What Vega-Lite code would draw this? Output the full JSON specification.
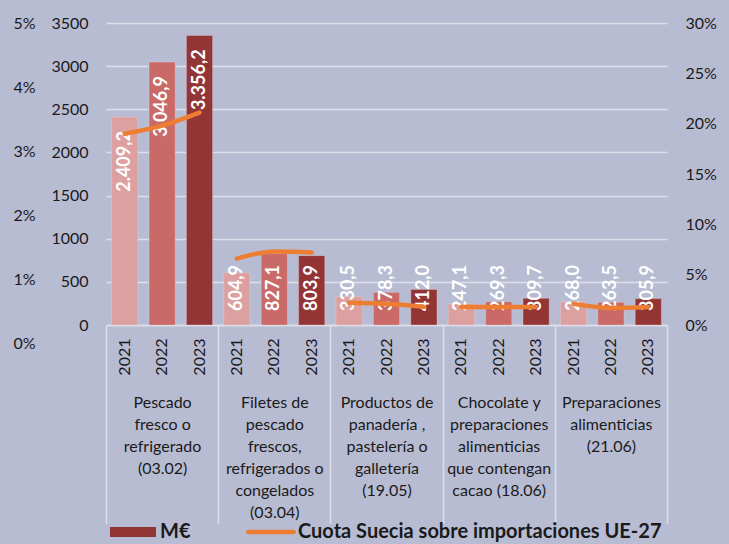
{
  "$schema": "https://vega.github.io/schema/vega-lite/v6.json",
  "width": 561,
  "height": 302,
  "autosize": {"type": "none"},
  "padding": {"left": 106, "top": 23, "right": 62, "bottom": 219},
  "background": "#b8bcd3",
  "config": {
    "view": {"stroke": null},
    "font": "Lato",
    "axis": {"labelFont": "Lato", "labelFontSize": 16, "labelColor": "#1a1a1a", "title": null}
  },
  "data": {
    "values": [
      {"cat": "Pescado|fresco o|refrigerado|(03.02)", "key": "1-2021", "year": "2021", "value": 2409.2, "label": "2.409,2", "share": 19.0},
      {"cat": "Pescado|fresco o|refrigerado|(03.02)", "key": "1-2022", "year": "2022", "value": 3046.9, "label": "3.046,9", "share": 19.8},
      {"cat": "Pescado|fresco o|refrigerado|(03.02)", "key": "1-2023", "year": "2023", "value": 3356.2, "label": "3.356,2", "share": 21.1},
      {"cat": "Filetes de|pescado|frescos,|refrigerados o|congelados|(03.04)", "key": "2-2021", "year": "2021", "value": 604.9, "label": "604,9", "share": 6.6},
      {"cat": "Filetes de|pescado|frescos,|refrigerados o|congelados|(03.04)", "key": "2-2022", "year": "2022", "value": 827.1, "label": "827,1", "share": 7.3},
      {"cat": "Filetes de|pescado|frescos,|refrigerados o|congelados|(03.04)", "key": "2-2023", "year": "2023", "value": 803.9, "label": "803,9", "share": 7.2},
      {"cat": "Productos de|panadería ,|pastelería o|galletería|(19.05)", "key": "3-2021", "year": "2021", "value": 330.5, "label": "330,5", "share": 2.2},
      {"cat": "Productos de|panadería ,|pastelería o|galletería|(19.05)", "key": "3-2022", "year": "2022", "value": 378.3, "label": "378,3", "share": 2.1},
      {"cat": "Productos de|panadería ,|pastelería o|galletería|(19.05)", "key": "3-2023", "year": "2023", "value": 412.0, "label": "412,0", "share": 1.8},
      {"cat": "Chocolate y|preparaciones|alimenticias|que contengan|cacao  (18.06)", "key": "4-2021", "year": "2021", "value": 247.1, "label": "247,1", "share": 1.8},
      {"cat": "Chocolate y|preparaciones|alimenticias|que contengan|cacao  (18.06)", "key": "4-2022", "year": "2022", "value": 269.3, "label": "269,3", "share": 1.8},
      {"cat": "Chocolate y|preparaciones|alimenticias|que contengan|cacao  (18.06)", "key": "4-2023", "year": "2023", "value": 309.7, "label": "309,7", "share": 1.8},
      {"cat": "Preparaciones|alimenticias|(21.06)", "key": "5-2021", "year": "2021", "value": 268.0, "label": "268,0", "share": 2.1},
      {"cat": "Preparaciones|alimenticias|(21.06)", "key": "5-2022", "year": "2022", "value": 263.5, "label": "263,5", "share": 1.7},
      {"cat": "Preparaciones|alimenticias|(21.06)", "key": "5-2023", "year": "2023", "value": 305.9, "label": "305,9", "share": 1.8}
    ]
  },
  "layer": [
    {
      "layer": [
        {
          "encoding": {
            "x": {
              "field": "key", "type": "nominal", "sort": null,
              "scale": {"paddingInner": 0.3, "paddingOuter": 0.15},
              "axis": {"orient": "bottom", "labelExpr": "slice(datum.label, 2)", "labelAngle": -90, "labelAlign": "right", "labelBaseline": "middle", "labelPadding": 13, "ticks": false, "domain": true, "domainColor": "#dde0ea", "domainWidth": 1.5}
            },
            "y": {
              "field": "value", "type": "quantitative",
              "scale": {"domain": [0, 3500], "nice": false},
              "axis": {"orient": "left", "format": "d", "values": [0, 500, 1000, 1500, 2000, 2500, 3000, 3500], "grid": true, "gridColor": "#dde0ea", "gridWidth": 1.5, "domain": false, "ticks": false, "labelPadding": 18}
            }
          },
          "layer": [
            {
              "mark": {"type": "bar", "stroke": "#e6d6dc", "strokeWidth": 0.6, "strokeOpacity": 0.6},
              "encoding": {
                "color": {"field": "year", "type": "nominal", "scale": {"domain": ["2021", "2022", "2023"], "range": ["#dda0a0", "#c96a69", "#933535"]}, "legend": null}
              }
            },
            {
              "transform": [{"filter": "datum.value > 1000"}],
              "mark": {"type": "text", "angle": 270, "align": "right", "baseline": "middle", "dx": -14, "color": "white", "font": "Lato", "fontWeight": "bold", "fontSize": 18},
              "encoding": {"text": {"field": "label"}}
            },
            {
              "transform": [{"filter": "datum.value <= 1000"}],
              "mark": {"type": "text", "angle": 270, "align": "left", "baseline": "middle", "dx": 14, "color": "white", "font": "Lato", "fontWeight": "bold", "fontSize": 18},
              "encoding": {"text": {"field": "label"}, "y": {"datum": 0}}
            }
          ]
        },
        {
          "mark": {"type": "line", "strokeWidth": 4.5, "strokeCap": "round", "interpolate": "monotone"},
          "encoding": {
            "x": {"field": "key", "type": "nominal", "sort": null},
            "y": {
              "field": "share", "type": "quantitative",
              "scale": {"domain": [0, 30], "nice": false},
              "axis": {"orient": "right", "values": [0, 5, 10, 15, 20, 25, 30], "labelExpr": "datum.value + '%'", "grid": false, "domain": false, "ticks": false, "labelPadding": 18}
            },
            "detail": {"field": "cat"},
            "stroke": {
              "datum": "Cuota Suecia sobre importaciones UE-27",
              "scale": {"domain": ["M€", "Cuota Suecia sobre importaciones UE-27"], "range": ["#933535", "#ed7d31"]},
              "legend": {
                "orient": "none", "legendX": 2, "legendY": 484, "direction": "horizontal", "title": null,
                "symbolType": "M-0.92,-0.2H0.92V0.2H-0.92Z", "symbolSize": 2500, "symbolStrokeWidth": 0,
                "labelFont": "Lato", "labelFontWeight": "bold", "labelFontSize": 20, "labelColor": "#1a1a1a", "labelLimit": 0,
                "columnPadding": 55, "labelOffset": 2,
                "encode": {"symbols": {"update": {
                  "shape": {"signal": "datum.label == 'M€' ? 'M-0.92,-0.2H0.92V0.2H-0.92Z' : 'M-0.91,-0.09H0.91A0.09,0.09,0,0,1,0.91,0.09H-0.91A0.09,0.09,0,0,1,-0.91,-0.09Z'"},
                  "fill": {"scale": "stroke", "field": "value"},
                  "strokeWidth": {"value": 0}
                }}}
              }
            }
          }
        }
      ],
      "resolve": {"scale": {"y": "independent"}}
    },
    {
      "mark": {"type": "rule", "opacity": 0},
      "encoding": {
        "x": {
          "field": "cat", "type": "nominal", "sort": null,
          "scale": {"paddingInner": 0, "paddingOuter": 0},
          "axis": {"orient": "bottom", "tickBand": "extent", "ticks": true, "tickSize": 198, "tickColor": "#dde0ea", "tickWidth": 1.5, "domain": false, "labelExpr": "split(datum.label, '|')", "labelAngle": 0, "labelAlign": "center", "labelBaseline": "top", "labelPadding": -129, "labelLineHeight": 22, "labelFontSize": 16}
        }
      }
    },
    {
      "mark": {"type": "point", "opacity": 0},
      "encoding": {
        "y": {
          "field": "share", "type": "quantitative",
          "scale": {"domain": [0, 5], "range": [320, 0], "nice": false},
          "axis": {"orient": "left", "offset": 53, "values": [0, 1, 2, 3, 4, 5], "labelExpr": "datum.value + '%'", "grid": false, "domain": false, "ticks": false, "labelPadding": 18}
        }
      }
    }
  ],
  "resolve": {"scale": {"x": "independent", "y": "independent"}}
}
